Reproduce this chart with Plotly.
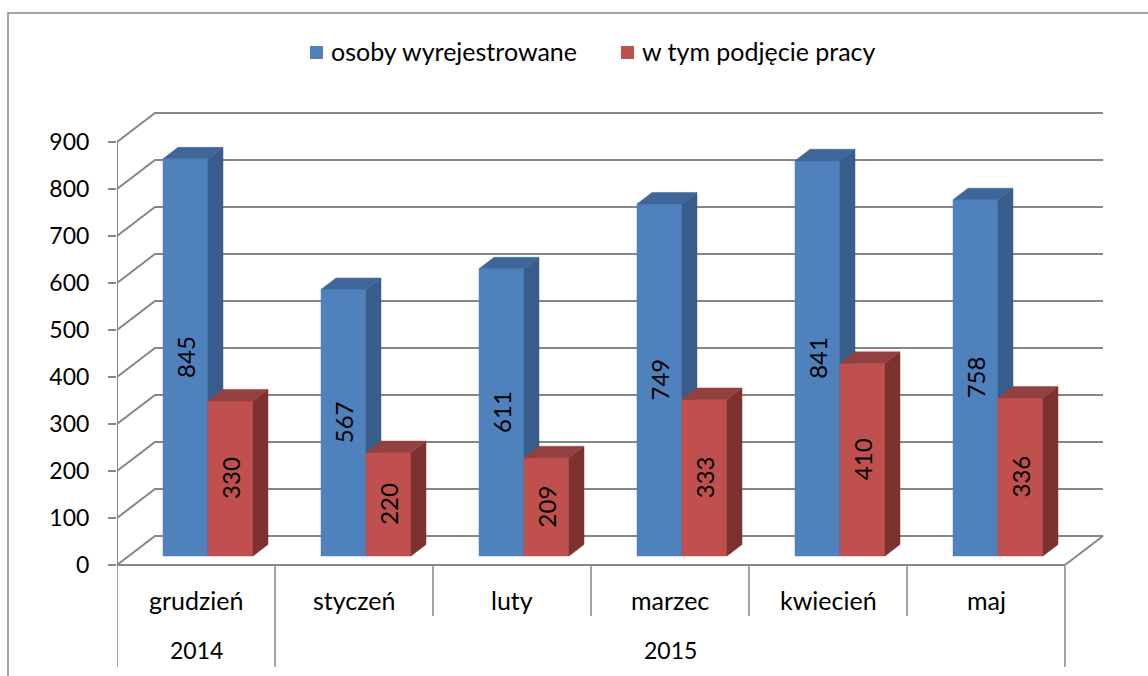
import plotly.graph_objects as go

# ---------------- data ----------------
months = ["grudzień", "styczeń", "luty", "marzec", "kwiecień", "maj"]
years = ["2014", "2015", "2015", "2015", "2015", "2015"]
registered = [845, 567, 611, 749, 841, 758]
employed = [330, 220, 209, 333, 410, 336]
series_names = ["osoby wyrejestrowane", "w tym podjęcie pracy"]
y_ticks = [0, 100, 200, 300, 400, 500, 600, 700, 800, 900]

# ---------------- layout constants ----------------
FIG_W, FIG_H = 1148, 676
AX_X = 117          # pixel x of front-left corner (category -0.5)
AX_Y0 = 565         # pixel y of value 0 on the front plane
CAT_PX = 158.0      # pixel width of one category
PX_PER_UNIT = 0.47  # pixels per value unit
FONT = "Lato"
GRID = "#868686"

BLUE = ("#4F81BD", "#385D8A", "#3E6699")   # front, side, top
RED = ("#C0504D", "#7D3230", "#934140")


def ux(px):
    return px / CAT_PX


def uy(px):
    return px / PX_PER_UNIT


def paper_x(px):
    return (px - AX_X) / (FIG_W - AX_X)


def paper_y(py):
    return 1 - py / FIG_H


x_range = [-0.5, -0.5 + (FIG_W - AX_X) / CAT_PX]
y_range = [-(FIG_H - AX_Y0) / PX_PER_UNIT, AX_Y0 / PX_PER_UNIT]

BACK_DX, BACK_DY = ux(38), uy(29)
BAR_DX, BAR_DY = ux(12), uy(9)
BAR_W = ux(45)
DEPTH_DX, DEPTH_DY = ux(15), uy(11.5)

n = len(months)
left, right = -0.5, n - 0.5

fig = go.Figure()

# ---------------- walls / grid ----------------
gx, gy = [], []
for v in y_ticks:
    gx += [left, left + BACK_DX, right + BACK_DX, None]
    gy += [v, v + BACK_DY, v + BACK_DY, None]
gx += [right, right + BACK_DX, None]
gy += [0, BACK_DY, None]
fig.add_trace(go.Scatter(x=gx, y=gy, mode="lines", line=dict(color=GRID, width=2),
                         hoverinfo="skip", showlegend=False))
# front axis lines
fig.add_trace(go.Scatter(x=[left, left, None, left, right], y=[y_ticks[-1], 0, None, 0, 0],
                         mode="lines", line=dict(color=GRID, width=2),
                         hoverinfo="skip", showlegend=False))


# ---------------- 3D bars ----------------
def add_bars(values, colors, shift, name):
    fx, fy, sx, sy, tx, ty = [], [], [], [], [], []
    for i, v in enumerate(values):
        xl = i + BAR_DX + shift
        xr = xl + BAR_W
        yb = BAR_DY
        yt = BAR_DY + v
        fx += [xl, xr, xr, xl, xl, None]
        fy += [yb, yb, yt, yt, yb, None]
        sx += [xr, xr + DEPTH_DX, xr + DEPTH_DX, xr, xr, None]
        sy += [yb, yb + DEPTH_DY, yt + DEPTH_DY, yt, yb, None]
        tx += [xl, xl + DEPTH_DX, xr + DEPTH_DX, xr, xl, None]
        ty += [yt, yt + DEPTH_DY, yt + DEPTH_DY, yt, yt, None]
        fig.add_annotation(x=(xl + xr) / 2, y=yb + v / 2, text=str(v), textangle=-90,
                           showarrow=False, xanchor="center", yanchor="middle",
                           font=dict(family=FONT, size=24, color="black"))
    for xs, ys, c in ((fx, fy, colors[0]), (sx, sy, colors[1]), (tx, ty, colors[2])):
        fig.add_trace(go.Scatter(x=xs, y=ys, mode="lines", fill="toself", fillcolor=c,
                                 line=dict(color=c, width=0.5), name=name,
                                 hoverinfo="skip", showlegend=False))


add_bars(registered, BLUE, -BAR_W, series_names[0])
add_bars(employed, RED, 0.0, series_names[1])

# ---------------- category axis (two levels) ----------------
shapes = []
for b in range(n + 1):
    year_edge = b == 0 or b == n or years[b] != years[b - 1]
    shapes.append(dict(type="line", xref="x", yref="paper", x0=b - 0.5, x1=b - 0.5,
                       y0=paper_y(566), y1=paper_y(667 if year_edge else 616),
                       line=dict(color=GRID, width=1.5)))
for i, m in enumerate(months):
    fig.add_annotation(x=i, y=paper_y(600), xref="x", yref="paper", text=m, showarrow=False,
                       xanchor="center", yanchor="middle",
                       font=dict(family=FONT, size=25, color="black"))
start = 0
for b in range(1, n + 1):
    if b == n or years[b] != years[start]:
        fig.add_annotation(x=(start + b - 1) / 2, y=paper_y(650), xref="x", yref="paper",
                           text=years[start], showarrow=False,
                           xanchor="center", yanchor="middle",
                           font=dict(family=FONT, size=23, color="black"))
        start = b

# ---------------- legend (manual) ----------------
legend_items = [(series_names[0], BLUE[0], 310), (series_names[1], RED[0], 621)]
for name, col, px in legend_items:
    shapes.append(dict(type="rect", xref="paper", yref="paper",
                       x0=paper_x(px), x1=paper_x(px + 13), y0=paper_y(59), y1=paper_y(46),
                       fillcolor=col, line=dict(width=0)))
    fig.add_annotation(x=paper_x(px + 19), y=paper_y(51), xref="paper", yref="paper",
                       text=name, showarrow=False, xanchor="left", yanchor="middle",
                       font=dict(family=FONT, size=25, color="black"))

# outer border
shapes.append(dict(type="rect", xref="paper", yref="paper",
                   x0=paper_x(8), x1=paper_x(FIG_W + 20), y0=paper_y(FIG_H + 20), y1=paper_y(13),
                   line=dict(color=GRID, width=1.5), fillcolor="rgba(0,0,0,0)", layer="below"))

fig.update_layout(
    width=FIG_W, height=FIG_H,
    margin=dict(l=AX_X, r=0, t=0, b=0),
    paper_bgcolor="white", plot_bgcolor="white",
    showlegend=False,
    shapes=shapes,
    xaxis=dict(range=x_range, visible=False, fixedrange=True),
    yaxis=dict(range=y_range, tickvals=y_ticks, ticks="outside", ticklen=8, tickwidth=2,
               tickcolor=GRID, showgrid=False, zeroline=False, showline=False,
               ticklabelstandoff=14, tickfont=dict(family=FONT, size=23, color="black"),
               fixedrange=True),
)

fig.write_html("out.html", config={"displayModeBar": False},
               post_script="document.body.style.margin='0';document.body.style.overflow='hidden';")
